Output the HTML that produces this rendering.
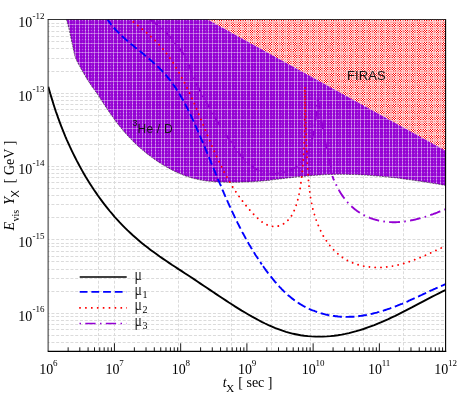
<!DOCTYPE html>
<html><head><meta charset="utf-8"><title>plot</title>
<style>html,body{margin:0;padding:0;background:#fff;}svg{display:block;font-family:"Liberation Serif",serif;will-change:transform;transform:translateZ(0);}</style></head>
<body>
<svg width="465" height="395" viewBox="0 0 465 395">
<defs>
<pattern id="pfiras" width="31" height="31" patternUnits="userSpaceOnUse" x="0" y="0" shape-rendering="crispEdges"><rect width="31" height="31" fill="#ff0000"/><path fill="#ffffff" d="M2 0h1v1h-1zM4 0h1v1h-1zM9 0h1v1h-1zM14 0h1v1h-1zM16 0h1v1h-1zM21 0h1v1h-1zM23 0h1v1h-1zM28 0h1v1h-1zM3 1h1v1h-1zM8 1h1v1h-1zM10 1h1v1h-1zM15 1h1v1h-1zM22 1h1v1h-1zM27 1h1v1h-1zM29 1h1v1h-1zM2 5h1v1h-1zM4 5h1v1h-1zM9 5h1v1h-1zM14 5h1v1h-1zM16 5h1v1h-1zM21 5h1v1h-1zM23 5h1v1h-1zM28 5h1v1h-1zM3 6h1v1h-1zM8 6h1v1h-1zM10 6h1v1h-1zM15 6h1v1h-1zM22 6h1v1h-1zM27 6h1v1h-1zM29 6h1v1h-1zM2 7h1v1h-1zM4 7h1v1h-1zM9 7h1v1h-1zM14 7h1v1h-1zM16 7h1v1h-1zM21 7h1v1h-1zM23 7h1v1h-1zM28 7h1v1h-1zM3 11h1v1h-1zM8 11h1v1h-1zM10 11h1v1h-1zM15 11h1v1h-1zM22 11h1v1h-1zM27 11h1v1h-1zM29 11h1v1h-1zM2 12h1v1h-1zM4 12h1v1h-1zM9 12h1v1h-1zM14 12h1v1h-1zM16 12h1v1h-1zM21 12h1v1h-1zM23 12h1v1h-1zM28 12h1v1h-1zM3 13h1v1h-1zM8 13h1v1h-1zM10 13h1v1h-1zM15 13h1v1h-1zM22 13h1v1h-1zM27 13h1v1h-1zM29 13h1v1h-1zM3 18h1v1h-1zM8 18h1v1h-1zM10 18h1v1h-1zM15 18h1v1h-1zM22 18h1v1h-1zM27 18h1v1h-1zM29 18h1v1h-1zM2 19h1v1h-1zM4 19h1v1h-1zM9 19h1v1h-1zM14 19h1v1h-1zM16 19h1v1h-1zM21 19h1v1h-1zM23 19h1v1h-1zM28 19h1v1h-1zM3 20h1v1h-1zM8 20h1v1h-1zM10 20h1v1h-1zM15 20h1v1h-1zM22 20h1v1h-1zM27 20h1v1h-1zM29 20h1v1h-1zM2 24h1v1h-1zM4 24h1v1h-1zM9 24h1v1h-1zM14 24h1v1h-1zM16 24h1v1h-1zM21 24h1v1h-1zM23 24h1v1h-1zM28 24h1v1h-1zM3 25h1v1h-1zM8 25h1v1h-1zM10 25h1v1h-1zM15 25h1v1h-1zM22 25h1v1h-1zM27 25h1v1h-1zM29 25h1v1h-1zM2 26h1v1h-1zM4 26h1v1h-1zM9 26h1v1h-1zM14 26h1v1h-1zM16 26h1v1h-1zM21 26h1v1h-1zM23 26h1v1h-1zM28 26h1v1h-1zM3 30h1v1h-1zM8 30h1v1h-1zM10 30h1v1h-1zM15 30h1v1h-1zM22 30h1v1h-1zM27 30h1v1h-1zM29 30h1v1h-1z"/><path fill="#fff0f0" d="M17 1h1v1h-1zM20 1h1v1h-1zM17 6h1v1h-1zM20 6h1v1h-1zM17 11h1v1h-1zM20 11h1v1h-1zM17 13h1v1h-1zM20 13h1v1h-1zM2 14h1v1h-1zM4 14h1v1h-1zM9 14h1v1h-1zM14 14h1v1h-1zM16 14h1v1h-1zM21 14h1v1h-1zM23 14h1v1h-1zM28 14h1v1h-1zM2 17h1v1h-1zM4 17h1v1h-1zM9 17h1v1h-1zM14 17h1v1h-1zM16 17h1v1h-1zM21 17h1v1h-1zM23 17h1v1h-1zM28 17h1v1h-1zM17 18h1v1h-1zM20 18h1v1h-1zM17 20h1v1h-1zM20 20h1v1h-1zM17 25h1v1h-1zM20 25h1v1h-1zM17 30h1v1h-1zM20 30h1v1h-1z"/><path fill="#ffe1e1" d="M11 0h1v1h-1zM26 0h1v1h-1zM1 1h1v1h-1zM5 1h1v1h-1zM2 2h1v1h-1zM4 2h1v1h-1zM9 2h1v1h-1zM11 2h1v1h-1zM14 2h1v1h-1zM16 2h1v1h-1zM21 2h1v1h-1zM23 2h1v1h-1zM26 2h1v1h-1zM28 2h1v1h-1zM11 5h1v1h-1zM26 5h1v1h-1zM1 6h1v1h-1zM5 6h1v1h-1zM11 7h1v1h-1zM26 7h1v1h-1zM1 8h1v1h-1zM3 8h1v1h-1zM5 8h1v1h-1zM8 8h1v1h-1zM10 8h1v1h-1zM15 8h1v1h-1zM17 8h1v1h-1zM20 8h1v1h-1zM22 8h1v1h-1zM27 8h1v1h-1zM29 8h1v1h-1zM1 11h1v1h-1zM5 11h1v1h-1zM11 12h1v1h-1zM26 12h1v1h-1zM1 13h1v1h-1zM5 13h1v1h-1zM11 14h1v1h-1zM26 14h1v1h-1zM11 17h1v1h-1zM26 17h1v1h-1zM1 18h1v1h-1zM5 18h1v1h-1zM11 19h1v1h-1zM26 19h1v1h-1zM1 20h1v1h-1zM5 20h1v1h-1zM1 23h1v1h-1zM3 23h1v1h-1zM5 23h1v1h-1zM8 23h1v1h-1zM10 23h1v1h-1zM15 23h1v1h-1zM17 23h1v1h-1zM20 23h1v1h-1zM22 23h1v1h-1zM27 23h1v1h-1zM29 23h1v1h-1zM11 24h1v1h-1zM26 24h1v1h-1zM1 25h1v1h-1zM5 25h1v1h-1zM11 26h1v1h-1zM26 26h1v1h-1zM2 29h1v1h-1zM4 29h1v1h-1zM9 29h1v1h-1zM11 29h1v1h-1zM14 29h1v1h-1zM16 29h1v1h-1zM21 29h1v1h-1zM23 29h1v1h-1zM26 29h1v1h-1zM28 29h1v1h-1zM1 30h1v1h-1zM5 30h1v1h-1z"/><path fill="#ffd2d2" d="M7 0h1v1h-1zM30 0h1v1h-1zM0 2h1v1h-1zM6 2h2v1h-2zM12 2h2v1h-2zM18 2h2v1h-2zM24 2h2v1h-2zM30 2h1v1h-1zM1 3h1v1h-1zM5 3h1v1h-1zM7 3h1v1h-1zM30 3h1v1h-1zM0 4h2v1h-2zM3 4h1v1h-1zM5 4h2v1h-2zM8 4h1v1h-1zM10 4h1v1h-1zM12 4h2v1h-2zM15 4h1v1h-1zM17 4h4v1h-4zM22 4h1v1h-1zM24 4h2v1h-2zM27 4h1v1h-1zM29 4h1v1h-1zM7 5h1v1h-1zM30 5h1v1h-1zM7 7h1v1h-1zM30 7h1v1h-1zM1 9h1v1h-1zM5 9h1v1h-1zM7 9h1v1h-1zM30 9h1v1h-1zM1 10h1v1h-1zM5 10h1v1h-1zM7 10h1v1h-1zM30 10h1v1h-1zM7 12h1v1h-1zM30 12h1v1h-1zM7 14h1v1h-1zM30 14h1v1h-1zM1 15h1v1h-1zM5 15h1v1h-1zM7 15h1v1h-1zM30 15h1v1h-1zM1 16h1v1h-1zM5 16h1v1h-1zM7 16h1v1h-1zM30 16h1v1h-1zM7 17h1v1h-1zM30 17h1v1h-1zM7 19h1v1h-1zM30 19h1v1h-1zM1 21h1v1h-1zM5 21h1v1h-1zM7 21h1v1h-1zM30 21h1v1h-1zM1 22h1v1h-1zM5 22h1v1h-1zM7 22h1v1h-1zM30 22h1v1h-1zM7 24h1v1h-1zM30 24h1v1h-1zM7 26h1v1h-1zM30 26h1v1h-1zM0 27h2v1h-2zM3 27h1v1h-1zM5 27h2v1h-2zM8 27h1v1h-1zM10 27h1v1h-1zM12 27h2v1h-2zM15 27h1v1h-1zM17 27h4v1h-4zM22 27h1v1h-1zM24 27h2v1h-2zM27 27h1v1h-1zM29 27h1v1h-1zM1 28h1v1h-1zM5 28h1v1h-1zM7 28h1v1h-1zM30 28h1v1h-1zM0 29h1v1h-1zM6 29h2v1h-2zM12 29h2v1h-2zM18 29h2v1h-2zM24 29h2v1h-2zM30 29h1v1h-1z"/><path fill="#ffc3c3" d="M13 0h1v1h-1zM24 0h1v1h-1zM13 1h1v1h-1zM24 1h1v1h-1zM11 3h1v1h-1zM13 3h1v1h-1zM24 3h1v1h-1zM26 3h1v1h-1zM7 4h1v1h-1zM30 4h1v1h-1zM13 5h1v1h-1zM24 5h1v1h-1zM13 6h1v1h-1zM24 6h1v1h-1zM13 7h1v1h-1zM24 7h1v1h-1zM0 8h1v1h-1zM6 8h1v1h-1zM12 8h2v1h-2zM18 8h2v1h-2zM24 8h2v1h-2zM11 9h1v1h-1zM13 9h1v1h-1zM24 9h1v1h-1zM26 9h1v1h-1zM0 10h1v1h-1zM2 10h3v1h-3zM6 10h1v1h-1zM8 10h22v1h-22zM13 11h1v1h-1zM24 11h1v1h-1zM13 12h1v1h-1zM24 12h1v1h-1zM13 13h1v1h-1zM24 13h1v1h-1zM13 14h1v1h-1zM24 14h1v1h-1zM11 15h1v1h-1zM13 15h1v1h-1zM24 15h1v1h-1zM26 15h1v1h-1zM11 16h1v1h-1zM13 16h1v1h-1zM24 16h1v1h-1zM26 16h1v1h-1zM13 17h1v1h-1zM24 17h1v1h-1zM13 18h1v1h-1zM24 18h1v1h-1zM13 19h1v1h-1zM24 19h1v1h-1zM13 20h1v1h-1zM24 20h1v1h-1zM0 21h1v1h-1zM2 21h3v1h-3zM6 21h1v1h-1zM8 21h22v1h-22zM11 22h1v1h-1zM13 22h1v1h-1zM24 22h1v1h-1zM26 22h1v1h-1zM0 23h1v1h-1zM6 23h1v1h-1zM12 23h2v1h-2zM18 23h2v1h-2zM24 23h2v1h-2zM13 24h1v1h-1zM24 24h1v1h-1zM13 25h1v1h-1zM24 25h1v1h-1zM13 26h1v1h-1zM24 26h1v1h-1zM7 27h1v1h-1zM30 27h1v1h-1zM11 28h1v1h-1zM13 28h1v1h-1zM24 28h1v1h-1zM26 28h1v1h-1zM13 30h1v1h-1zM24 30h1v1h-1z"/><path fill="#ffb4b4" d="M1 2h1v1h-1zM5 2h1v1h-1zM17 3h1v1h-1zM20 3h1v1h-1zM11 4h1v1h-1zM26 4h1v1h-1zM7 8h1v1h-1zM30 8h1v1h-1zM17 9h1v1h-1zM20 9h1v1h-1zM0 14h1v1h-1zM6 14h1v1h-1zM12 14h1v1h-1zM18 14h2v1h-2zM25 14h1v1h-1zM17 15h1v1h-1zM20 15h1v1h-1zM17 16h1v1h-1zM20 16h1v1h-1zM0 17h1v1h-1zM6 17h1v1h-1zM12 17h1v1h-1zM18 17h2v1h-2zM25 17h1v1h-1zM17 22h1v1h-1zM20 22h1v1h-1zM7 23h1v1h-1zM30 23h1v1h-1zM11 27h1v1h-1zM26 27h1v1h-1zM17 28h1v1h-1zM20 28h1v1h-1zM1 29h1v1h-1zM5 29h1v1h-1z"/><path fill="#ffa5a5" d="M18 0h2v1h-2zM7 1h1v1h-1zM18 1h2v1h-2zM30 1h1v1h-1zM18 3h2v1h-2zM2 4h1v1h-1zM4 4h1v1h-1zM9 4h1v1h-1zM14 4h1v1h-1zM16 4h1v1h-1zM21 4h1v1h-1zM23 4h1v1h-1zM28 4h1v1h-1zM18 5h2v1h-2zM7 6h1v1h-1zM18 6h2v1h-2zM30 6h1v1h-1zM18 7h2v1h-2zM18 9h2v1h-2zM7 11h1v1h-1zM18 11h2v1h-2zM30 11h1v1h-1zM18 12h2v1h-2zM7 13h1v1h-1zM18 13h2v1h-2zM30 13h1v1h-1zM0 15h1v1h-1zM2 15h3v1h-3zM6 15h1v1h-1zM8 15h3v1h-3zM12 15h1v1h-1zM14 15h3v1h-3zM18 15h2v1h-2zM21 15h3v1h-3zM25 15h1v1h-1zM27 15h3v1h-3zM0 16h1v1h-1zM2 16h3v1h-3zM6 16h1v1h-1zM8 16h3v1h-3zM12 16h1v1h-1zM14 16h3v1h-3zM18 16h2v1h-2zM21 16h3v1h-3zM25 16h1v1h-1zM27 16h3v1h-3zM7 18h1v1h-1zM18 18h2v1h-2zM30 18h1v1h-1zM18 19h2v1h-2zM7 20h1v1h-1zM18 20h2v1h-2zM30 20h1v1h-1zM18 22h2v1h-2zM18 24h2v1h-2zM7 25h1v1h-1zM18 25h2v1h-2zM30 25h1v1h-1zM18 26h2v1h-2zM2 27h1v1h-1zM4 27h1v1h-1zM9 27h1v1h-1zM14 27h1v1h-1zM16 27h1v1h-1zM21 27h1v1h-1zM23 27h1v1h-1zM28 27h1v1h-1zM18 28h2v1h-2zM7 30h1v1h-1zM18 30h2v1h-2zM30 30h1v1h-1z"/><path fill="#ff9696" d="M12 0h1v1h-1zM25 0h1v1h-1zM12 1h1v1h-1zM25 1h1v1h-1zM12 3h1v1h-1zM14 3h1v1h-1zM23 3h1v1h-1zM25 3h1v1h-1zM12 5h1v1h-1zM25 5h1v1h-1zM12 6h1v1h-1zM25 6h1v1h-1zM12 7h1v1h-1zM25 7h1v1h-1zM0 9h1v1h-1zM2 9h3v1h-3zM6 9h1v1h-1zM8 9h3v1h-3zM12 9h1v1h-1zM14 9h3v1h-3zM21 9h3v1h-3zM25 9h1v1h-1zM27 9h3v1h-3zM0 11h1v1h-1zM6 11h1v1h-1zM12 11h1v1h-1zM25 11h1v1h-1zM12 12h1v1h-1zM25 12h1v1h-1zM12 13h1v1h-1zM25 13h1v1h-1zM12 18h1v1h-1zM25 18h1v1h-1zM12 19h1v1h-1zM25 19h1v1h-1zM0 20h1v1h-1zM6 20h1v1h-1zM12 20h1v1h-1zM25 20h1v1h-1zM0 22h1v1h-1zM2 22h3v1h-3zM6 22h1v1h-1zM8 22h3v1h-3zM12 22h1v1h-1zM14 22h3v1h-3zM21 22h3v1h-3zM25 22h1v1h-1zM27 22h3v1h-3zM12 24h1v1h-1zM25 24h1v1h-1zM12 25h1v1h-1zM25 25h1v1h-1zM12 26h1v1h-1zM25 26h1v1h-1zM12 28h1v1h-1zM14 28h1v1h-1zM23 28h1v1h-1zM25 28h1v1h-1zM12 30h1v1h-1zM25 30h1v1h-1z"/><path fill="#ff8787" d="M0 0h1v1h-1zM6 0h1v1h-1zM0 1h1v1h-1zM6 1h1v1h-1zM17 2h1v1h-1zM20 2h1v1h-1zM0 3h1v1h-1zM2 3h3v1h-3zM6 3h1v1h-1zM8 3h3v1h-3zM15 3h2v1h-2zM21 3h2v1h-2zM27 3h3v1h-3zM0 5h1v1h-1zM6 5h1v1h-1zM0 6h1v1h-1zM6 6h1v1h-1zM0 7h1v1h-1zM6 7h1v1h-1zM0 12h1v1h-1zM6 12h1v1h-1zM0 13h1v1h-1zM6 13h1v1h-1zM1 14h1v1h-1zM5 14h1v1h-1zM1 17h1v1h-1zM5 17h1v1h-1zM0 18h1v1h-1zM6 18h1v1h-1zM0 19h1v1h-1zM6 19h1v1h-1zM0 24h1v1h-1zM6 24h1v1h-1zM0 25h1v1h-1zM6 25h1v1h-1zM0 26h1v1h-1zM6 26h1v1h-1zM0 28h1v1h-1zM2 28h3v1h-3zM6 28h1v1h-1zM8 28h3v1h-3zM15 28h2v1h-2zM21 28h2v1h-2zM27 28h3v1h-3zM17 29h1v1h-1zM20 29h1v1h-1zM0 30h1v1h-1zM6 30h1v1h-1z"/><path fill="#ff7878" d="M1 0h1v1h-1zM5 0h1v1h-1zM3 2h1v1h-1zM8 2h1v1h-1zM10 2h1v1h-1zM15 2h1v1h-1zM22 2h1v1h-1zM27 2h1v1h-1zM29 2h1v1h-1zM1 5h1v1h-1zM5 5h1v1h-1zM1 7h1v1h-1zM5 7h1v1h-1zM11 8h1v1h-1zM26 8h1v1h-1zM1 12h1v1h-1zM5 12h1v1h-1zM1 19h1v1h-1zM5 19h1v1h-1zM11 23h1v1h-1zM26 23h1v1h-1zM1 24h1v1h-1zM5 24h1v1h-1zM1 26h1v1h-1zM5 26h1v1h-1zM3 29h1v1h-1zM8 29h1v1h-1zM10 29h1v1h-1zM15 29h1v1h-1zM22 29h1v1h-1zM27 29h1v1h-1zM29 29h1v1h-1z"/><path fill="#ff4b4b" d="M11 1h1v1h-1zM26 1h1v1h-1zM11 6h1v1h-1zM26 6h1v1h-1zM2 8h1v1h-1zM4 8h1v1h-1zM9 8h1v1h-1zM14 8h1v1h-1zM16 8h1v1h-1zM21 8h1v1h-1zM23 8h1v1h-1zM28 8h1v1h-1zM11 11h1v1h-1zM26 11h1v1h-1zM11 13h1v1h-1zM26 13h1v1h-1zM11 18h1v1h-1zM26 18h1v1h-1zM11 20h1v1h-1zM26 20h1v1h-1zM2 23h1v1h-1zM4 23h1v1h-1zM9 23h1v1h-1zM14 23h1v1h-1zM16 23h1v1h-1zM21 23h1v1h-1zM23 23h1v1h-1zM28 23h1v1h-1zM11 25h1v1h-1zM26 25h1v1h-1zM11 30h1v1h-1zM26 30h1v1h-1z"/><path fill="#ff3c3c" d="M17 14h1v1h-1zM20 14h1v1h-1zM17 17h1v1h-1zM20 17h1v1h-1z"/><path fill="#ff1e1e" d="M17 0h1v1h-1zM20 0h1v1h-1zM17 5h1v1h-1zM20 5h1v1h-1zM17 7h1v1h-1zM20 7h1v1h-1zM17 12h1v1h-1zM20 12h1v1h-1zM3 14h1v1h-1zM8 14h1v1h-1zM10 14h1v1h-1zM15 14h1v1h-1zM22 14h1v1h-1zM27 14h1v1h-1zM29 14h1v1h-1zM3 17h1v1h-1zM8 17h1v1h-1zM10 17h1v1h-1zM15 17h1v1h-1zM22 17h1v1h-1zM27 17h1v1h-1zM29 17h1v1h-1zM17 19h1v1h-1zM20 19h1v1h-1zM17 24h1v1h-1zM20 24h1v1h-1zM17 26h1v1h-1zM20 26h1v1h-1z"/></pattern>
<pattern id="ppurple" width="19" height="19" patternUnits="userSpaceOnUse" x="18" y="5" shape-rendering="crispEdges"><rect width="19" height="19" fill="#9400d3"/><path fill="#9809d4" d="M1 16h3v1h-3zM5 16h2v1h-2zM8 16h2v1h-2zM11 16h2v1h-2zM14 16h2v1h-2zM18 16h1v1h-1z"/><path fill="#990dd5" d="M17 1h1v1h-1zM17 2h1v1h-1zM1 3h3v1h-3zM5 3h2v1h-2zM8 3h2v1h-2zM11 3h2v1h-2zM14 3h2v1h-2zM17 3h2v1h-2zM17 4h1v1h-1zM17 5h1v1h-1zM1 6h3v1h-3zM5 6h2v1h-2zM8 6h2v1h-2zM11 6h2v1h-2zM14 6h2v1h-2zM17 6h2v1h-2zM17 7h1v1h-1zM17 8h1v1h-1zM17 10h1v1h-1zM17 11h1v1h-1zM1 12h3v1h-3zM5 12h2v1h-2zM8 12h2v1h-2zM11 12h2v1h-2zM14 12h2v1h-2zM17 12h2v1h-2zM17 13h1v1h-1zM17 14h1v1h-1zM1 15h3v1h-3zM5 15h2v1h-2zM8 15h2v1h-2zM11 15h2v1h-2zM14 15h2v1h-2zM17 15h2v1h-2zM17 16h1v1h-1zM17 17h1v1h-1zM17 18h1v1h-1z"/><path fill="#9b11d6" d="M7 1h1v1h-1zM16 1h1v1h-1zM7 2h1v1h-1zM16 2h1v1h-1zM7 4h1v1h-1zM16 4h1v1h-1zM7 5h1v1h-1zM16 5h1v1h-1zM7 7h1v1h-1zM16 7h1v1h-1zM7 8h1v1h-1zM16 8h1v1h-1zM7 10h1v1h-1zM16 10h1v1h-1zM7 11h1v1h-1zM16 11h1v1h-1zM7 13h1v1h-1zM16 13h1v1h-1zM7 14h1v1h-1zM16 14h1v1h-1zM7 16h1v1h-1zM16 16h1v1h-1zM7 17h1v1h-1zM16 17h1v1h-1zM7 18h1v1h-1zM16 18h1v1h-1z"/><path fill="#b856e2" d="M7 3h1v1h-1zM16 3h1v1h-1zM7 6h1v1h-1zM16 6h1v1h-1zM7 12h1v1h-1zM16 12h1v1h-1zM7 15h1v1h-1zM16 15h1v1h-1z"/><path fill="#bc5fe3" d="M1 0h3v1h-3zM5 0h2v1h-2zM8 0h2v1h-2zM11 0h2v1h-2zM14 0h2v1h-2zM17 0h2v1h-2zM0 1h1v1h-1zM4 1h1v1h-1zM10 1h1v1h-1zM13 1h1v1h-1zM0 2h1v1h-1zM4 2h1v1h-1zM10 2h1v1h-1zM13 2h1v1h-1zM0 4h1v1h-1zM4 4h1v1h-1zM10 4h1v1h-1zM13 4h1v1h-1zM0 5h1v1h-1zM4 5h1v1h-1zM10 5h1v1h-1zM13 5h1v1h-1zM0 7h1v1h-1zM4 7h1v1h-1zM10 7h1v1h-1zM13 7h1v1h-1zM0 8h1v1h-1zM4 8h1v1h-1zM10 8h1v1h-1zM13 8h1v1h-1zM1 9h3v1h-3zM5 9h2v1h-2zM8 9h2v1h-2zM11 9h2v1h-2zM14 9h2v1h-2zM17 9h2v1h-2zM0 10h1v1h-1zM4 10h1v1h-1zM10 10h1v1h-1zM13 10h1v1h-1zM0 11h1v1h-1zM4 11h1v1h-1zM10 11h1v1h-1zM13 11h1v1h-1zM0 13h1v1h-1zM4 13h1v1h-1zM10 13h1v1h-1zM13 13h1v1h-1zM0 14h1v1h-1zM4 14h1v1h-1zM10 14h1v1h-1zM13 14h1v1h-1zM0 16h1v1h-1zM4 16h1v1h-1zM10 16h1v1h-1zM13 16h1v1h-1zM0 17h1v1h-1zM4 17h1v1h-1zM10 17h1v1h-1zM13 17h1v1h-1zM0 18h1v1h-1zM4 18h1v1h-1zM10 18h1v1h-1zM13 18h1v1h-1z"/><path fill="#d293ec" d="M7 0h1v1h-1zM16 0h1v1h-1zM7 9h1v1h-1zM16 9h1v1h-1z"/><path fill="#d59cee" d="M0 0h1v1h-1zM4 0h1v1h-1zM10 0h1v1h-1zM13 0h1v1h-1zM0 9h1v1h-1zM4 9h1v1h-1zM10 9h1v1h-1zM13 9h1v1h-1z"/><path fill="#d7a0ef" d="M0 3h1v1h-1zM4 3h1v1h-1zM10 3h1v1h-1zM13 3h1v1h-1zM0 6h1v1h-1zM4 6h1v1h-1zM10 6h1v1h-1zM13 6h1v1h-1zM0 12h1v1h-1zM4 12h1v1h-1zM10 12h1v1h-1zM13 12h1v1h-1zM0 15h1v1h-1zM4 15h1v1h-1zM10 15h1v1h-1zM13 15h1v1h-1z"/></pattern>

<clipPath id="cp"><rect x="48.2" y="19.5" width="397.40000000000003" height="331.8"/></clipPath>
</defs>
<rect width="465" height="395" fill="#fff"/>
<path d="M48.2 23.5H445.6M48.2 26.5H445.6M48.2 31.5H445.6M48.2 36.5H445.6M48.2 41.5H445.6M48.2 48.5H445.6M48.2 58.5H445.6M48.2 71.5H445.6M48.2 93.5H445.6M48.2 96.5H445.6M48.2 100.5H445.6M48.2 104.5H445.6M48.2 109.5H445.6M48.2 115.5H445.6M48.2 122.5H445.6M48.2 131.5H445.6M48.2 144.5H445.6M48.2 166.5H445.6M48.2 169.5H445.6M48.2 173.5H445.6M48.2 177.5H445.6M48.2 182.5H445.6M48.2 188.5H445.6M48.2 195.5H445.6M48.2 204.5H445.6M48.2 217.5H445.6M48.2 239.5H445.6M48.2 243.5H445.6M48.2 246.5H445.6M48.2 251.5H445.6M48.2 256.5H445.6M48.2 261.5H445.6M48.2 269.5H445.6M48.2 278.5H445.6M48.2 291.5H445.6M48.2 313.5H445.6M48.2 316.5H445.6M48.2 320.5H445.6M48.2 324.5H445.6M48.2 329.5H445.6M48.2 335.5H445.6M48.2 342.5H445.6" stroke="#dbdbdb" stroke-width="1" stroke-dasharray="3 1.75" stroke-dashoffset="1.5" fill="none"/>
<path d="M98.5 19.5V351.3M114.5 19.5V351.3M178.5 19.5V351.3M231.5 19.5V351.3M271.5 19.5V351.3M310.5 19.5V351.3M363.5 19.5V351.3M403.5 19.5V351.3" stroke="#dbdbdb" stroke-width="1" stroke-dasharray="3 1.75" fill="none"/>
<path d="M207.5 19.5 L445.6 19.5 L445.6 150.8Z" fill="url(#pfiras)"/>
<path d="M66.4 19.5 L66.7 20.5 L67.1 21.8 L67.6 23.4 L68.1 25.2 L68.6 27.1 L69.1 29.3 L69.6 31.8 L70.2 34.5 L70.7 37.0 L71.2 39.3 L71.6 41.2 L72.0 43.0 L72.4 44.6 L72.7 46.1 L73.0 47.5 L73.3 48.9 L73.6 50.1 L73.8 51.3 L74.0 52.4 L74.3 53.5 L74.5 54.5 L74.8 55.5 L75.0 56.5 L75.3 57.4 L75.7 58.5 L76.2 59.6 L76.8 60.8 L77.4 62.1 L78.1 63.4 L78.8 64.7 L79.6 66.1 L80.4 67.6 L81.2 69.1 L82.2 70.7 L83.1 72.3 L84.1 74.0 L85.1 75.7 L86.1 77.5 L87.2 79.4 L88.5 81.4 L90.1 83.7 L91.9 86.4 L93.8 89.1 L95.4 91.4 L96.8 92.9 L98.4 95.6 L100.1 98.3 L101.9 101.0 L103.6 103.7 L105.4 106.4 L107.2 109.1 L109.0 111.8 L110.9 114.5 L112.8 117.1 L114.7 119.8 L116.6 122.4 L118.6 125.0 L120.6 127.5 L122.7 130.0 L124.8 132.5 L127.0 134.9 L129.1 137.3 L131.4 139.6 L133.6 141.9 L136.0 144.2 L138.3 146.4 L140.7 148.5 L143.2 150.6 L145.7 152.7 L148.2 154.7 L150.8 156.6 L153.4 158.5 L156.1 160.4 L158.8 162.2 L161.5 164.0 L164.3 165.7 L167.2 167.4 L170.0 168.9 L172.9 170.4 L175.9 171.9 L178.9 173.2 L181.9 174.5 L184.9 175.7 L187.9 176.7 L191.0 177.7 L194.1 178.6 L197.3 179.3 L200.4 180.0 L203.6 180.5 L206.7 181.0 L209.9 181.3 L213.1 181.6 L216.3 181.9 L219.6 182.0 L222.8 182.1 L226.0 182.2 L229.3 182.3 L232.5 182.3 L235.7 182.3 L239.0 182.2 L242.2 182.1 L245.4 182.0 L248.7 181.9 L251.9 181.8 L255.1 181.6 L258.4 181.3 L261.6 181.1 L264.9 180.7 L268.1 180.4 L271.3 180.0 L274.6 179.6 L277.8 179.2 L281.0 178.8 L284.3 178.4 L287.5 178.0 L290.8 177.7 L294.0 177.3 L297.2 176.9 L300.5 176.6 L303.7 176.3 L306.9 176.0 L310.2 175.7 L313.4 175.4 L316.7 175.2 L319.9 175.0 L323.1 174.8 L326.4 174.6 L329.6 174.5 L332.8 174.4 L336.1 174.3 L339.3 174.3 L342.5 174.3 L345.8 174.3 L349.0 174.4 L352.2 174.5 L355.5 174.6 L358.7 174.7 L361.9 174.9 L365.2 175.1 L368.4 175.3 L371.6 175.5 L374.9 175.8 L378.1 176.0 L381.3 176.3 L384.5 176.7 L387.8 177.0 L391.0 177.4 L394.2 177.7 L397.4 178.1 L400.6 178.5 L403.9 178.9 L407.1 179.4 L410.3 179.8 L413.5 180.3 L416.7 180.8 L419.9 181.2 L423.2 181.7 L426.4 182.2 L429.6 182.8 L432.8 183.3 L436.0 183.8 L439.2 184.3 L442.4 184.9 L445.6 185.4 L445.6 150.8 L207.5 19.5Z" fill="url(#ppurple)"/>
<path d="M66.4 19.5 L66.7 20.5 L67.1 21.8 L67.6 23.4 L68.1 25.2 L68.6 27.1 L69.1 29.3 L69.6 31.8 L70.2 34.5 L70.7 37.0 L71.2 39.3 L71.6 41.2 L72.0 43.0 L72.4 44.6 L72.7 46.1 L73.0 47.5 L73.3 48.9 L73.6 50.1 L73.8 51.3 L74.0 52.4 L74.3 53.5 L74.5 54.5 L74.8 55.5 L75.0 56.5 L75.3 57.4 L75.7 58.5 L76.2 59.6 L76.8 60.8 L77.4 62.1 L78.1 63.4 L78.8 64.7 L79.6 66.1 L80.4 67.6 L81.2 69.1 L82.2 70.7 L83.1 72.3 L84.1 74.0 L85.1 75.7 L86.1 77.5 L87.2 79.4 L88.5 81.4 L90.1 83.7 L91.9 86.4 L93.8 89.1 L95.4 91.4 L96.8 92.9 L98.4 95.6 L100.1 98.3 L101.9 101.0 L103.6 103.7 L105.4 106.4 L107.2 109.1 L109.0 111.8 L110.9 114.5 L112.8 117.1 L114.7 119.8 L116.6 122.4 L118.6 125.0 L120.6 127.5 L122.7 130.0 L124.8 132.5 L127.0 134.9 L129.1 137.3 L131.4 139.6 L133.6 141.9 L136.0 144.2 L138.3 146.4 L140.7 148.5 L143.2 150.6 L145.7 152.7 L148.2 154.7 L150.8 156.6 L153.4 158.5 L156.1 160.4 L158.8 162.2 L161.5 164.0 L164.3 165.7 L167.2 167.4 L170.0 168.9 L172.9 170.4 L175.9 171.9 L178.9 173.2 L181.9 174.5 L184.9 175.7 L187.9 176.7 L191.0 177.7 L194.1 178.6 L197.3 179.3 L200.4 180.0 L203.6 180.5 L206.7 181.0 L209.9 181.3 L213.1 181.6 L216.3 181.9 L219.6 182.0 L222.8 182.1 L226.0 182.2 L229.3 182.3 L232.5 182.3 L235.7 182.3 L239.0 182.2 L242.2 182.1 L245.4 182.0 L248.7 181.9 L251.9 181.8 L255.1 181.6 L258.4 181.3 L261.6 181.1 L264.9 180.7 L268.1 180.4 L271.3 180.0 L274.6 179.6 L277.8 179.2 L281.0 178.8 L284.3 178.4 L287.5 178.0 L290.8 177.7 L294.0 177.3 L297.2 176.9 L300.5 176.6 L303.7 176.3 L306.9 176.0 L310.2 175.7 L313.4 175.4 L316.7 175.2 L319.9 175.0 L323.1 174.8 L326.4 174.6 L329.6 174.5 L332.8 174.4 L336.1 174.3 L339.3 174.3 L342.5 174.3 L345.8 174.3 L349.0 174.4 L352.2 174.5 L355.5 174.6 L358.7 174.7 L361.9 174.9 L365.2 175.1 L368.4 175.3 L371.6 175.5 L374.9 175.8 L378.1 176.0 L381.3 176.3 L384.5 176.7 L387.8 177.0 L391.0 177.4 L394.2 177.7 L397.4 178.1 L400.6 178.5 L403.9 178.9 L407.1 179.4 L410.3 179.8 L413.5 180.3 L416.7 180.8 L419.9 181.2 L423.2 181.7 L426.4 182.2 L429.6 182.8 L432.8 183.3 L436.0 183.8 L439.2 184.3 L442.4 184.9 L445.6 185.4" fill="none" stroke="#222" stroke-width="0.6" stroke-dasharray="2 1"/>
<g clip-path="url(#cp)" fill="none">
<path d="M150.0 19.5 L151.5 20.6 L153.7 22.1 L156.2 24.0 L158.9 26.1 L161.8 28.4 L164.5 31.0 L167.3 34.0 L170.4 37.4 L173.5 41.1 L176.6 44.9 L179.4 48.4 L181.7 51.6 L183.5 54.3 L184.9 56.8 L186.1 59.0 L187.1 61.2 L188.1 63.5 L189.2 66.0 L190.3 68.6 L191.3 71.3 L192.3 74.0 L193.4 76.9 L194.6 79.8 L196.0 83.0 L197.7 86.4 L199.7 90.1 L201.7 93.9 L203.9 97.7 L206.0 101.4 L208.0 105.0 L209.9 108.3 L211.7 111.6 L213.5 114.7 L215.2 117.8 L217.1 120.9 L219.0 124.0 L221.0 127.2 L223.1 130.4 L225.2 133.6 L227.4 136.8 L229.5 139.9 L231.7 143.0 L233.8 146.0 L236.0 149.0 L238.1 151.9 L240.3 154.8 L242.6 157.5 L245.0 160.0 L247.6 162.4 L250.4 164.8 L253.2 167.0 L256.1 169.0 L259.1 170.7 L262.0 172.0 L264.9 172.9 L267.9 173.4 L270.9 173.7 L274.0 173.7 L277.0 173.4 L280.0 173.0 L283.1 172.4 L286.3 171.5 L289.5 170.4 L292.6 169.1 L295.5 167.7 L298.0 166.0 L300.2 164.1 L302.1 162.0 L303.8 159.6 L305.3 157.1 L306.7 154.6 L308.0 152.0 L309.1 149.4 L310.1 146.7 L310.9 143.9 L311.7 141.0 L312.3 138.0 L313.0 135.0 L313.6 131.8 L314.2 128.4 L314.7 124.9 L315.2 121.4 L315.6 118.1 L316.0 115.0 L316.4 112.0 L316.7 109.1 L316.9 106.2 L317.2 103.7 L317.4 101.6 L317.5 100.0" stroke="#9400D3" stroke-width="2" stroke-dasharray="9.5 4.5 1.5 4.5"/>
<path d="M318.0 100.0 L318.3 101.6 L318.6 103.8 L319.1 106.4 L319.5 109.3 L320.0 112.2 L320.5 115.0 L321.0 117.7 L321.4 120.5 L321.9 123.3 L322.4 126.2 L323.0 129.1 L323.5 132.0 L324.1 135.0 L324.6 138.0 L325.2 141.1 L325.8 144.2 L326.4 147.2 L327.0 150.0 L327.6 152.7 L328.2 155.4 L328.9 158.0 L329.5 160.5 L330.0 162.8 L330.5 165.0 L330.9 167.1 L331.3 169.2 L331.6 171.1 L331.9 172.9 L332.1 174.3 L332.3 175.4" stroke="#9400D3" stroke-width="2" stroke-dasharray="9.5 4.5 1.5 4.5"/>
<path d="M332.3 176.0 L332.9 177.4 L333.4 178.8 L334.0 180.1 L334.6 181.4 L335.1 182.6 L335.7 183.9 L336.3 185.0 L336.9 186.2 L337.4 187.3 L338.0 188.4 L338.6 189.4 L339.1 190.4 L339.7 191.4 L340.3 192.4 L340.8 193.3 L341.4 194.2 L342.0 195.1 L342.5 195.9 L343.1 196.7 L343.7 197.5 L344.3 198.3 L344.8 199.1 L345.4 199.8 L346.0 200.5 L346.5 201.2 L347.1 201.8 L347.7 202.5 L348.2 203.1 L348.8 203.7 L349.4 204.3 L349.9 204.9 L350.5 205.4 L351.1 206.0 L351.7 206.5 L352.2 207.0 L352.8 207.5 L353.4 208.0 L353.9 208.5 L354.5 208.9 L355.1 209.4 L355.6 209.8 L356.2 210.2 L356.8 210.7 L357.4 211.1 L357.9 211.5 L358.5 211.9 L359.1 212.3 L359.6 212.6 L360.2 213.0 L360.8 213.3 L361.3 213.7 L361.9 214.0 L362.5 214.4 L363.0 214.7 L363.6 215.0 L364.2 215.3 L364.8 215.6 L365.3 215.9 L365.9 216.1 L366.5 216.4 L367.0 216.7 L367.6 216.9 L368.2 217.2 L368.7 217.4 L369.3 217.6 L369.9 217.9 L370.4 218.1 L371.0 218.3 L371.6 218.5 L372.2 218.7 L372.7 218.9 L373.3 219.1 L373.9 219.2 L374.4 219.4 L375.0 219.6 L375.6 219.7 L376.1 219.9 L376.7 220.0 L377.3 220.2 L377.8 220.3 L378.4 220.5 L379.0 220.6 L379.6 220.7 L380.1 220.8 L380.7 220.9 L381.3 221.1 L381.8 221.2 L382.4 221.3 L383.0 221.3 L383.5 221.4 L384.1 221.5 L384.7 221.6 L385.2 221.7 L385.8 221.7 L386.4 221.8 L387.0 221.9 L387.5 221.9 L388.1 222.0 L388.7 222.0 L389.2 222.0 L389.8 222.1 L390.4 222.1 L390.9 222.1 L391.5 222.1 L392.1 222.2 L392.7 222.2 L393.2 222.2 L393.8 222.2 L394.4 222.2 L394.9 222.2 L395.5 222.2 L396.1 222.2 L396.6 222.1 L397.2 222.1 L397.8 222.1 L398.3 222.1 L398.9 222.0 L399.5 222.0 L400.1 221.9 L400.6 221.9 L401.2 221.8 L401.8 221.8 L402.3 221.7 L402.9 221.7 L403.5 221.6 L404.0 221.5 L404.6 221.5 L405.2 221.4 L405.7 221.3 L406.3 221.2 L406.9 221.1 L407.5 221.1 L408.0 221.0 L408.6 220.9 L409.2 220.8 L409.7 220.7 L410.3 220.6 L410.9 220.4 L411.4 220.3 L412.0 220.2 L412.6 220.1 L413.1 220.0 L413.7 219.9 L414.3 219.7 L414.9 219.6 L415.4 219.5 L416.0 219.3 L416.6 219.2 L417.1 219.0 L417.7 218.9 L418.3 218.7 L418.8 218.6 L419.4 218.4 L420.0 218.3 L420.5 218.1 L421.1 218.0 L421.7 217.8 L422.3 217.6 L422.8 217.5 L423.4 217.3 L424.0 217.1 L424.5 217.0 L425.1 216.8 L425.7 216.6 L426.2 216.4 L426.8 216.2 L427.4 216.1 L428.0 215.9 L428.5 215.7 L429.1 215.5 L429.7 215.3 L430.2 215.1 L430.8 214.9 L431.4 214.7 L431.9 214.5 L432.5 214.3 L433.1 214.1 L433.6 213.9 L434.2 213.7 L434.8 213.5 L435.4 213.3 L435.9 213.0 L436.5 212.8 L437.1 212.6 L437.6 212.4 L438.2 212.2 L438.8 212.0 L439.3 211.7 L439.9 211.5 L440.5 211.3 L441.0 211.1 L441.6 210.8 L442.2 210.6 L442.8 210.4 L443.3 210.2 L443.9 209.9 L444.5 209.7 L445.0 209.5 L445.6 209.2" stroke="#9400D3" stroke-width="1.9" stroke-dasharray="10.8 4.3 1.6 4.3" stroke-dashoffset="6"/>
<path d="M131.1 20.0 L131.6 20.5 L132.2 20.9 L132.8 21.4 L133.3 21.9 L133.9 22.3 L134.5 22.8 L135.1 23.3 L135.7 23.8 L136.3 24.3 L136.9 24.8 L137.5 25.3 L138.1 25.8 L138.8 26.3 L139.4 26.8 L140.0 27.3 L140.6 27.8 L141.3 28.4 L141.9 28.9 L142.6 29.4 L143.2 30.0 L143.9 30.5 L144.5 31.0 L145.1 31.6 L145.8 32.1 L146.4 32.7 L147.1 33.2 L147.7 33.8 L148.4 34.3 L149.0 34.9 L149.7 35.4 L150.3 36.0 L150.9 36.6 L151.6 37.2 L152.2 37.7 L152.8 38.3 L153.4 38.9 L154.1 39.5 L154.7 40.1 L155.3 40.7 L155.9 41.3 L156.5 41.9 L157.1 42.5 L157.6 43.1 L158.2 43.7 L158.8 44.3 L159.3 44.9 L159.9 45.5 L160.5 46.1 L161.0 46.7 L161.5 47.3 L162.1 48.0 L162.6 48.6 L163.1 49.2 L163.7 49.9 L164.2 50.5 L164.7 51.1 L165.2 51.8 L165.7 52.4 L166.2 53.1 L166.7 53.7 L167.2 54.4 L167.7 55.0 L168.1 55.7 L168.6 56.3 L169.1 57.0 L169.6 57.6 L170.0 58.3 L170.5 59.0 L171.0 59.6 L171.4 60.3 L171.9 61.0 L172.3 61.6 L172.8 62.3 L173.2 63.0 L173.6 63.7 L174.1 64.4 L174.5 65.1 L174.9 65.7 L175.4 66.4 L175.8 67.1 L176.2 67.8 L176.6 68.5 L177.0 69.2 L177.5 69.9 L177.9 70.6 L178.3 71.3 L178.7 72.0 L179.1 72.7 L179.5 73.4 L179.9 74.1 L180.3 74.8 L180.7 75.5 L181.1 76.3 L181.5 77.0 L181.8 77.7 L182.2 78.4 L182.6 79.1 L183.0 79.8 L183.4 80.6 L183.8 81.3 L184.1 82.0 L184.5 82.7 L184.9 83.5 L185.2 84.2 L185.6 84.9 L186.0 85.7 L186.3 86.4 L186.7 87.1 L187.1 87.9 L187.4 88.6 L187.8 89.3 L188.1 90.1 L188.5 90.8 L188.8 91.6 L189.2 92.3 L189.5 93.0 L189.9 93.8 L190.2 94.5 L190.6 95.3 L190.9 96.0 L191.2 96.8 L191.6 97.5 L191.9 98.3 L192.3 99.0 L192.6 99.8 L192.9 100.5 L193.3 101.3 L193.6 102.0 L193.9 102.8 L194.3 103.6 L194.6 104.3 L194.9 105.1 L195.3 105.8 L195.6 106.6 L195.9 107.4 L196.2 108.1 L196.6 108.9 L196.9 109.6 L197.2 110.4 L197.5 111.2 L197.8 111.9 L198.2 112.7 L198.5 113.4 L198.8 114.2 L199.1 115.0 L199.4 115.7 L199.8 116.5 L200.1 117.3 L200.4 118.0 L200.7 118.8 L201.0 119.6 L201.3 120.3 L201.7 121.1 L202.0 121.9 L202.3 122.6 L202.6 123.4 L202.9 124.2 L203.2 124.9 L203.6 125.7 L203.9 126.5 L204.2 127.2 L204.5 128.0 L204.8 128.8 L205.1 129.5 L205.4 130.3 L205.8 131.1 L206.1 131.8 L206.4 132.6 L206.7 133.4 L207.0 134.1 L207.3 134.9 L207.7 135.7 L208.0 136.4 L208.3 137.2 L208.6 138.0 L208.9 138.7 L209.3 139.5 L209.6 140.2 L209.9 141.0 L210.2 141.8 L210.5 142.5 L210.9 143.3 L211.2 144.0 L211.5 144.8 L211.8 145.6 L212.2 146.3 L212.5 147.1 L212.8 147.8 L213.2 148.6 L213.5 149.4 L213.8 150.1 L214.1 150.9 L214.5 151.6 L214.8 152.4 L215.2 153.1 L215.5 153.9 L215.8 154.6 L216.2 155.4 L216.5 156.1 L216.9 156.9 L217.2 157.6 L217.5 158.4 L217.9 159.1 L218.2 159.8 L218.6 160.6 L218.9 161.3 L219.3 162.1 L219.6 162.8 L220.0 163.5 L220.4 164.3 L220.7 165.0 L221.1 165.8 L221.4 166.5 L221.8 167.2 L222.2 168.0 L222.5 168.7 L222.9 169.4 L223.3 170.1 L223.7 170.9 L224.0 171.6 L224.4 172.3 L224.8 173.0 L225.2 173.8 L225.6 174.5 L226.0 175.2 L226.3 175.9 L226.7 176.6 L227.1 177.3 L227.5 178.1 L227.9 178.8 L228.3 179.5 L228.7 180.2 L229.1 180.9 L229.5 181.6 L230.0 182.3 L230.4 183.0 L230.8 183.7 L231.2 184.4 L231.6 185.1 L232.1 185.8 L232.5 186.5 L232.9 187.2 L233.4 187.9 L233.8 188.6 L234.2 189.3 L234.7 190.0 L235.1 190.7 L235.6 191.3 L236.0 192.0 L236.5 192.7 L236.9 193.4 L237.4 194.1 L237.9 194.7 L238.3 195.4 L238.8 196.1 L239.3 196.8 L239.7 197.4 L240.2 198.1 L240.7 198.8 L241.2 199.4 L241.7 200.1 L242.2 200.7 L242.7 201.4 L243.2 202.1 L243.7 202.7 L244.2 203.4 L244.7 204.0 L245.2 204.7 L245.8 205.3 L246.3 206.0 L246.8 206.6 L247.3 207.2 L247.9 207.9 L248.4 208.5 L249.0 209.2 L249.5 209.8 L250.1 210.4 L250.6 211.0 L251.2 211.7 L251.8 212.3 L252.3 212.9 L252.9 213.5 L253.5 214.2 L254.1 214.8 L254.6 215.4 L255.2 216.0 L255.8 216.6 L256.4 217.2 L257.0 217.8 L257.7 218.3 L258.3 218.9 L258.9 219.5 L259.5 220.0 L260.2 220.5 L260.8 221.0 L261.5 221.5 L262.1 222.0 L262.8 222.5 L263.5 222.9 L264.2 223.3 L264.9 223.7 L265.6 224.1 L266.3 224.5 L267.0 224.8 L267.7 225.1 L268.5 225.4 L269.2 225.6 L270.0 225.8 L270.7 226.0 L271.5 226.2 L272.3 226.3 L273.1 226.4 L273.9 226.4 L274.7 226.4 L275.6 226.4 L276.4 226.4 L277.2 226.3 L278.0 226.1 L278.8 226.0 L279.5 225.8 L280.3 225.5 L281.0 225.2 L281.7 224.9 L282.5 224.5 L283.1 224.1 L283.8 223.7 L284.5 223.3 L285.1 222.8 L285.8 222.3 L286.4 221.8 L287.0 221.2 L287.6 220.7 L288.1 220.1 L288.7 219.5 L289.2 218.8 L289.7 218.2 L290.2 217.5 L290.7 216.9 L291.2 216.2 L291.6 215.5 L292.0 214.8 L292.4 214.0 L292.8 213.3 L293.2 212.6 L293.6 211.8 L294.0 211.0 L294.3 210.3 L294.7 209.5 L295.0 208.7 L295.3 207.9 L295.6 207.1 L295.9 206.3 L296.1 205.5 L296.4 204.7 L296.7 203.8 L296.9 203.0 L297.2 202.2 L297.4 201.4 L297.6 200.6 L297.8 199.7 L298.0 198.9 L298.2 198.1 L298.4 197.3 L298.6 196.5 L298.7 195.7 L298.9 194.9 L299.1 194.1 L299.2 193.3 L299.4 192.5 L299.5 191.7 L299.7 190.9 L299.8 190.1 L299.9 189.3 L300.1 188.5 L300.2 187.7 L300.3 186.9 L300.5 186.1 L300.6 185.3 L300.7 184.5 L300.8 183.7 L300.9 182.8 L301.0 182.0 L301.1 181.2 L301.2 180.4 L301.4 179.6 L301.5 178.8 L301.6 178.0 L301.7 177.2 L301.8 176.4 L301.8 175.6 L301.9 174.8 L302.0 174.0 L302.1 173.2 L302.2 172.3 L302.3 171.5 L302.4 170.7 L302.5 169.9 L302.5 169.1 L302.6 168.3 L302.7 167.5 L302.8 166.6 L302.8 165.8 L302.9 165.0 L303.0 164.2 L303.0 163.4 L303.1 162.6 L303.2 161.7 L303.2 160.9 L303.3 160.1 L303.4 159.3 L303.4 158.5 L303.5 157.6 L303.5 156.8 L303.6 156.0 L303.6 155.2 L303.7 154.4 L303.7 153.5 L303.8 152.7 L303.8 151.9 L303.9 151.1 L303.9 150.2 L304.0 149.4 L304.0 148.6 L304.0 147.8 L304.1 146.9 L304.1 146.1 L304.2 145.3 L304.2 144.5 L304.2 143.6 L304.3 142.8 L304.3 142.0 L304.3 141.2 L304.3 140.3 L304.4 139.5 L304.4 138.7 L304.4 137.9 L304.5 137.0 L304.5 136.2 L304.5 135.4 L304.5 134.6 L304.5 133.7 L304.6 132.9 L304.6 132.1 L304.6 131.2 L304.6 130.4 L304.6 129.6 L304.7 128.8 L304.7 127.9 L304.7 127.1 L304.7 126.3 L304.7 125.4 L304.7 124.6 L304.7 123.8 L304.7 123.0 L304.8 122.1 L304.8 121.3 L304.8 120.5 L304.8 119.7 L304.8 118.8 L304.8 118.0 L304.8 117.2 L304.8 116.4 L304.8 115.5 L304.8 114.7 L304.8 113.9 L304.8 113.1 L304.8 112.2 L304.9 111.4 L304.9 110.6 L304.9 109.8 L304.9 108.9 L304.9 108.1 L304.9 107.3 L304.9 106.5 L304.9 105.6 L304.9 104.8 L304.9 104.0 L304.9 103.2 L304.9 102.3 L304.9 101.5 L304.9 100.7 L304.9 99.9 L304.9 99.1 L304.9 98.2 L304.9 97.4 L304.9 96.6 L304.9 95.8 L304.9 95.0 L304.9 94.2 L304.9 93.3 L304.9 92.5 L304.9 91.7 L304.9 90.9 L304.9 90.1 L304.9 89.3 L304.9 88.5 L304.9 87.6 L304.9 86.8 L305.0 86.0" stroke="#ff0000" stroke-width="1.9" stroke-dasharray="0.01 5.74" stroke-linecap="round" stroke-dashoffset="2.83"/>
<path d="M305.0 86.1 L305.0 86.9 L305.0 87.6 L305.0 88.3 L305.0 89.0 L305.0 89.7 L305.0 90.4 L305.0 91.1 L305.0 91.8 L305.1 92.5 L305.1 93.2 L305.1 94.0 L305.1 94.7 L305.1 95.4 L305.1 96.1 L305.1 96.8 L305.1 97.5 L305.2 98.2 L305.2 99.0 L305.2 99.7 L305.2 100.4 L305.2 101.1 L305.2 101.8 L305.2 102.5 L305.2 103.3 L305.3 104.0 L305.3 104.7 L305.3 105.4 L305.3 106.2 L305.3 106.9 L305.3 107.6 L305.4 108.3 L305.4 109.0 L305.4 109.8 L305.4 110.5 L305.4 111.2 L305.4 111.9 L305.5 112.7 L305.5 113.4 L305.5 114.1 L305.5 114.8 L305.5 115.6 L305.5 116.3 L305.6 117.0 L305.6 117.7 L305.6 118.5 L305.6 119.2 L305.6 119.9 L305.7 120.7 L305.7 121.4 L305.7 122.1 L305.7 122.9 L305.7 123.6 L305.8 124.3 L305.8 125.0 L305.8 125.8 L305.8 126.5 L305.9 127.2 L305.9 128.0 L305.9 128.7 L305.9 129.4 L305.9 130.2 L306.0 130.9 L306.0 131.6 L306.0 132.4 L306.0 133.1 L306.1 133.8 L306.1 134.6 L306.1 135.3 L306.1 136.0 L306.2 136.8 L306.2 137.5 L306.2 138.2 L306.3 139.0 L306.3 139.7 L306.3 140.4 L306.3 141.2 L306.4 141.9 L306.4 142.6 L306.4 143.4 L306.5 144.1 L306.5 144.8 L306.5 145.6 L306.5 146.3 L306.6 147.0 L306.6 147.8 L306.6 148.5 L306.7 149.2 L306.7 150.0 L306.7 150.7 L306.8 151.4 L306.8 152.2 L306.8 152.9 L306.9 153.6 L306.9 154.4 L306.9 155.1 L307.0 155.8 L307.0 156.6 L307.0 157.3 L307.1 158.0 L307.1 158.8 L307.1 159.5 L307.2 160.2 L307.2 161.0 L307.3 161.7 L307.3 162.4 L307.3 163.2 L307.4 163.9 L307.4 164.6 L307.5 165.4 L307.5 166.1 L307.5 166.8 L307.6 167.5 L307.6 168.3 L307.7 169.0 L307.7 169.7 L307.8 170.5 L307.8 171.2 L307.9 171.9 L307.9 172.7 L308.0 173.4 L308.0 174.1 L308.1 174.8 L308.1 175.6 L308.2 176.3 L308.2 177.0 L308.3 177.8 L308.4 178.5 L308.4 179.2 L308.5 179.9 L308.5 180.7 L308.6 181.4 L308.7 182.1 L308.7 182.8 L308.8 183.6 L308.9 184.3 L309.0 185.0 L309.0 185.7 L309.1 186.5 L309.2 187.2 L309.3 187.9 L309.3 188.6 L309.4 189.3 L309.5 190.1 L309.6 190.8 L309.7 191.5 L309.8 192.2 L309.9 192.9 L310.0 193.7 L310.1 194.4 L310.2 195.1 L310.3 195.8 L310.4 196.5 L310.5 197.2 L310.6 198.0 L310.8 198.7 L310.9 199.4 L311.0 200.1 L311.1 200.8 L311.3 201.5 L311.4 202.2 L311.5 202.9 L311.7 203.7 L311.8 204.4 L312.0 205.1 L312.1 205.8 L312.3 206.5 L312.4 207.2 L312.6 207.9 L312.8 208.6 L312.9 209.3 L313.1 210.0 L313.3 210.7 L313.5 211.4 L313.7 212.1 L313.9 212.8 L314.1 213.5 L314.3 214.2 L314.5 214.9 L314.7 215.6 L314.9 216.3 L315.1 217.0 L315.3 217.7 L315.6 218.4 L315.8 219.1 L316.1 219.8 L316.3 220.5 L316.6 221.2 L316.8 221.9 L317.1 222.6 L317.3 223.3 L317.6 224.0 L317.9 224.6 L318.2 225.3 L318.5 226.0 L318.8 226.7 L319.1 227.4 L319.4 228.1 L319.7 228.7 L320.0 229.4 L320.3 230.1 L320.6 230.7 L321.0 231.4 L321.3 232.1 L321.6 232.7 L322.0 233.4 L322.3 234.0 L322.7 234.7 L323.0 235.3 L323.4 236.0 L323.8 236.6 L324.2 237.2 L324.5 237.9 L324.9 238.5 L325.3 239.1 L325.7 239.7 L326.1 240.4 L326.5 241.0 L326.9 241.6 L327.4 242.2 L327.8 242.8 L328.2 243.4 L328.6 243.9 L329.1 244.5 L329.5 245.1 L330.0 245.7 L330.4 246.2 L330.9 246.8 L331.4 247.3 L331.8 247.9 L332.3 248.4 L332.8 249.0 L333.3 249.5 L333.8 250.0 L334.3 250.5 L334.8 251.0 L335.3 251.5 L335.8 252.0 L336.3 252.5 L336.9 253.0 L337.4 253.5 L337.9 253.9 L338.5 254.4 L339.0 254.8 L339.6 255.3 L340.1 255.7 L340.7 256.2 L341.3 256.6 L341.8 257.0 L342.4 257.4 L343.0 257.8 L343.6 258.2 L344.2 258.6 L344.8 258.9 L345.4 259.3 L346.0 259.6 L346.6 260.0 L347.2 260.3 L347.9 260.7 L348.5 261.0 L349.1 261.3 L349.8 261.6 L350.4 261.9 L351.1 262.2 L351.7 262.5 L352.4 262.7 L353.0 263.0 L353.7 263.3 L354.4 263.5 L355.0 263.7 L355.7 264.0 L356.4 264.2 L357.1 264.4 L357.7 264.6 L358.4 264.8 L359.1 265.0 L359.8 265.2 L360.5 265.4 L361.2 265.6 L361.9 265.7 L362.6 265.9 L363.3 266.0 L364.0 266.2 L364.7 266.3 L365.5 266.4 L366.2 266.5 L366.9 266.7 L367.6 266.8 L368.3 266.9 L369.1 266.9 L369.8 267.0 L370.5 267.1 L371.2 267.2 L372.0 267.2 L372.7 267.3 L373.4 267.3 L374.2 267.4 L374.9 267.4 L375.6 267.4 L376.4 267.4 L377.1 267.5 L377.8 267.5 L378.6 267.5 L379.3 267.4 L380.0 267.4 L380.8 267.4 L381.5 267.4 L382.3 267.3 L383.0 267.3 L383.7 267.2 L384.5 267.2 L385.2 267.1 L385.9 267.1 L386.7 267.0 L387.4 266.9 L388.1 266.8 L388.9 266.7 L389.6 266.6 L390.3 266.5 L391.1 266.4 L391.8 266.3 L392.5 266.1 L393.2 266.0 L394.0 265.9 L394.7 265.7 L395.4 265.6 L396.1 265.4 L396.9 265.2 L397.6 265.1 L398.3 264.9 L399.0 264.7 L399.7 264.5 L400.4 264.4 L401.2 264.2 L401.9 264.0 L402.6 263.8 L403.3 263.6 L404.0 263.4 L404.7 263.1 L405.4 262.9 L406.1 262.7 L406.8 262.5 L407.5 262.3 L408.3 262.0 L409.0 261.8 L409.7 261.5 L410.4 261.3 L411.1 261.1 L411.8 260.8 L412.4 260.6 L413.1 260.3 L413.8 260.0 L414.5 259.8 L415.2 259.5 L415.9 259.2 L416.6 259.0 L417.3 258.7 L418.0 258.4 L418.7 258.1 L419.3 257.9 L420.0 257.6 L420.7 257.3 L421.4 257.0 L422.1 256.7 L422.7 256.4 L423.4 256.2 L424.1 255.9 L424.7 255.6 L425.4 255.3 L426.1 255.0 L426.8 254.7 L427.4 254.4 L428.1 254.1 L428.7 253.8 L429.4 253.5 L430.1 253.2 L430.7 252.9 L431.4 252.6 L432.0 252.3 L432.7 252.0 L433.3 251.7 L434.0 251.4 L434.6 251.1 L435.3 250.8 L435.9 250.5 L436.6 250.2 L437.2 249.9 L437.8 249.6 L438.5 249.3 L439.1 249.0 L439.7 248.7 L440.4 248.4 L441.0 248.1 L441.6 247.8 L442.2 247.5 L442.9 247.2 L443.5 246.9 L444.1 246.6 L444.7 246.4 L445.3 246.1" stroke="#ff0000" stroke-width="1.9" stroke-dasharray="0.01 5.79" stroke-linecap="round" stroke-dashoffset="4.06"/>
<path d="M107.6 19.6 L108.3 20.7 L109.0 21.7 L109.8 22.7 L110.6 23.7 L111.3 24.7 L112.1 25.6 L112.9 26.6 L113.7 27.6 L114.6 28.5 L115.4 29.4 L116.2 30.3 L117.1 31.2 L118.0 32.1 L118.9 33.0 L119.7 33.9 L120.6 34.8 L121.6 35.6 L122.5 36.5 L123.4 37.4 L124.3 38.2 L125.3 39.0 L126.2 39.9 L127.2 40.7 L128.1 41.5 L129.1 42.4 L130.1 43.2 L131.0 44.0 L132.0 44.8 L133.0 45.6 L134.0 46.4 L134.9 47.2 L135.9 48.0 L136.9 48.8 L137.9 49.6 L138.9 50.4 L139.9 51.2 L140.9 52.0 L141.9 52.8 L142.9 53.6 L143.8 54.4 L144.8 55.3 L145.8 56.1 L146.8 56.9 L147.8 57.7 L148.7 58.5 L149.7 59.4 L150.7 60.2 L151.6 61.0 L152.6 61.9 L153.5 62.7 L154.5 63.6 L155.4 64.4 L156.4 65.3 L157.3 66.2 L158.2 67.0 L159.1 67.9 L160.0 68.8 L160.9 69.7 L161.8 70.6 L162.6 71.5 L163.5 72.4 L164.3 73.3 L165.2 74.3 L166.0 75.2 L166.8 76.2 L167.6 77.1 L168.4 78.1 L169.2 79.1 L169.9 80.0 L170.7 81.0 L171.5 82.0 L172.2 83.0 L172.9 84.0 L173.6 85.0 L174.4 86.1 L175.1 87.1 L175.8 88.1 L176.4 89.2 L177.1 90.2 L177.8 91.2 L178.5 92.3 L179.1 93.4 L179.8 94.4 L180.4 95.5 L181.0 96.6 L181.6 97.7 L182.3 98.7 L182.9 99.8 L183.5 100.9 L184.1 102.0 L184.7 103.1 L185.3 104.2 L185.8 105.4 L186.4 106.5 L187.0 107.6 L187.6 108.7 L188.1 109.8 L188.7 111.0 L189.2 112.1 L189.8 113.2 L190.3 114.4 L190.9 115.5 L191.4 116.6 L191.9 117.8 L192.5 118.9 L193.0 120.1 L193.5 121.2 L194.0 122.4 L194.6 123.5 L195.1 124.7 L195.6 125.8 L196.1 127.0 L196.6 128.1 L197.1 129.3 L197.6 130.4 L198.1 131.6 L198.6 132.8 L199.1 133.9 L199.6 135.1 L200.1 136.2 L200.6 137.4 L201.1 138.6 L201.6 139.7 L202.1 140.9 L202.6 142.0 L203.1 143.2 L203.6 144.4 L204.1 145.5 L204.6 146.7 L205.1 147.9 L205.5 149.0 L206.0 150.2 L206.5 151.4 L207.0 152.5 L207.5 153.7 L208.0 154.9 L208.5 156.0 L208.9 157.2 L209.4 158.4 L209.9 159.6 L210.4 160.7 L210.9 161.9 L211.3 163.1 L211.8 164.2 L212.3 165.4 L212.8 166.6 L213.3 167.7 L213.8 168.9 L214.2 170.1 L214.7 171.2 L215.2 172.4 L215.7 173.6 L216.2 174.7 L216.7 175.9 L217.1 177.1 L217.6 178.2 L218.1 179.4 L218.6 180.6 L219.1 181.7 L219.6 182.9 L220.1 184.1 L220.6 185.2 L221.1 186.4 L221.5 187.6 L222.0 188.7 L222.5 189.9 L223.0 191.0 L223.5 192.2 L224.0 193.4 L224.5 194.5 L225.0 195.7 L225.5 196.8 L226.0 198.0 L226.6 199.1 L227.1 200.3 L227.6 201.4 L228.1 202.6 L228.6 203.7 L229.1 204.9 L229.6 206.0 L230.2 207.2 L230.7 208.3 L231.2 209.5 L231.7 210.6 L232.3 211.8 L232.8 212.9 L233.3 214.0 L233.9 215.2 L234.4 216.3 L235.0 217.5 L235.5 218.6 L236.1 219.7 L236.6 220.8 L237.2 222.0 L237.7 223.1 L238.3 224.2 L238.9 225.3 L239.4 226.5 L240.0 227.6 L240.6 228.7 L241.2 229.8 L241.7 230.9 L242.3 232.1 L242.9 233.2 L243.5 234.3 L244.1 235.4 L244.7 236.5 L245.3 237.6 L245.9 238.7 L246.5 239.8 L247.1 240.9 L247.8 242.0 L248.4 243.1 L249.0 244.2 L249.6 245.2 L250.3 246.3 L250.9 247.4 L251.6 248.5 L252.2 249.6 L252.9 250.6 L253.5 251.7 L254.2 252.8 L254.9 253.9 L255.5 254.9 L256.2 256.0 L256.9 257.0 L257.6 258.1 L258.3 259.2 L259.0 260.2 L259.7 261.3 L260.4 262.3 L261.1 263.4 L261.8 264.4" stroke="#0000ff" stroke-width="1.9" stroke-dasharray="8.1 3.6" stroke-dashoffset="1.67"/>
<path d="M261.8 264.4 L262.5 265.4 L263.3 266.5 L264.0 267.5 L264.7 268.5 L265.5 269.6 L266.2 270.6 L267.0 271.6 L267.7 272.6 L268.5 273.6 L269.3 274.6 L270.1 275.6 L270.9 276.6 L271.7 277.6 L272.5 278.6 L273.3 279.6 L274.1 280.6 L274.9 281.6 L275.7 282.5 L276.6 283.5 L277.4 284.5 L278.3 285.4 L279.1 286.3 L280.0 287.3 L280.9 288.2 L281.7 289.1 L282.6 290.0 L283.5 290.9 L284.4 291.8 L285.3 292.6 L286.3 293.5 L287.2 294.3 L288.1 295.2 L289.1 296.0 L290.1 296.8 L291.0 297.6 L292.0 298.4 L293.0 299.1 L294.0 299.9 L295.0 300.6 L296.0 301.4 L297.1 302.1 L298.1 302.8 L299.1 303.4 L300.2 304.1 L301.3 304.7 L302.4 305.4 L303.4 306.0 L304.6 306.6 L305.7 307.2 L306.8 307.7 L307.9 308.3 L309.0 308.8 L310.2 309.3 L311.3 309.8 L312.5 310.3 L313.7 310.7 L314.8 311.2 L316.0 311.6 L317.2 312.0 L318.4 312.4 L319.6 312.8 L320.8 313.2 L322.0 313.5 L323.2 313.8 L324.4 314.2 L325.7 314.5 L326.9 314.7 L328.1 315.0 L329.4 315.2 L330.6 315.5 L331.8 315.7 L333.1 315.9 L334.3 316.0 L335.6 316.2 L336.8 316.3 L338.1 316.5 L339.3 316.6 L340.6 316.7 L341.9 316.7 L343.1 316.8 L344.4 316.8 L345.6 316.9 L346.9 316.9 L348.1 316.9 L349.4 316.8 L350.6 316.8 L351.9 316.7 L353.2 316.7 L354.4 316.6 L355.7 316.5 L356.9 316.3 L358.2 316.2 L359.4 316.0 L360.7 315.9 L361.9 315.7 L363.2 315.5 L364.4 315.3 L365.6 315.1 L366.9 314.9 L368.1 314.6 L369.4 314.4 L370.6 314.1 L371.8 313.8 L373.1 313.5 L374.3 313.2 L375.5 312.9 L376.8 312.6 L378.0 312.2 L379.2 311.9 L380.4 311.5 L381.7 311.2 L382.9 310.8 L384.1 310.4 L385.3 310.0 L386.5 309.6 L387.7 309.2 L388.9 308.8 L390.1 308.4 L391.3 307.9 L392.5 307.5 L393.7 307.0 L394.9 306.6 L396.1 306.1 L397.3 305.7 L398.5 305.2 L399.7 304.7 L400.8 304.2 L402.0 303.8 L403.2 303.3 L404.3 302.8 L405.5 302.3 L406.7 301.8 L407.8 301.3 L409.0 300.7 L410.2 300.2 L411.3 299.7 L412.5 299.2 L413.6 298.7 L414.8 298.1 L415.9 297.6 L417.0 297.1 L418.2 296.6 L419.3 296.0 L420.5 295.5 L421.6 295.0 L422.8 294.4 L423.9 293.9 L425.0 293.4 L426.2 292.8 L427.3 292.3 L428.5 291.8 L429.6 291.2 L430.7 290.7 L431.9 290.2 L433.0 289.7 L434.1 289.1 L435.3 288.6 L436.4 288.1 L437.6 287.6 L438.7 287.1 L439.8 286.6 L441.0 286.1 L442.1 285.6 L443.3 285.1 L444.4 284.6 L445.6 284.1" stroke="#0000ff" stroke-width="1.9" stroke-dasharray="8.95 3.7" stroke-dashoffset="10.47"/>
<path d="M48.3 86.7 L49.3 90.2 L50.3 93.8 L51.4 97.4 L52.5 100.9 L53.6 104.5 L54.7 108.0 L55.9 111.6 L57.2 115.1 L58.4 118.7 L59.7 122.2 L61.1 125.8 L62.5 129.3 L63.9 132.8 L65.3 136.3 L66.8 139.8 L68.4 143.3 L69.9 146.7 L71.5 150.1 L73.2 153.6 L74.9 157.0 L76.6 160.4 L78.4 163.7 L80.2 167.1 L82.0 170.4 L83.9 173.7 L85.8 177.0 L87.8 180.2 L89.8 183.4 L91.8 186.6 L93.9 189.8 L96.1 192.9 L98.2 196.0 L100.5 199.1 L102.7 202.1 L105.0 205.1 L107.4 208.1 L109.7 211.0 L112.2 213.9 L114.6 216.8 L117.2 219.6 L119.7 222.4 L122.3 225.1 L125.0 227.8 L127.6 230.4 L130.4 233.0 L133.1 235.5 L136.0 238.0 L138.8 240.5 L141.7 242.9 L144.6 245.3 L147.6 247.6 L150.6 249.9 L153.6 252.1 L156.7 254.3 L159.7 256.5 L162.8 258.6 L166.0 260.8 L169.1 262.9 L172.2 265.0 L175.4 267.0 L178.5 269.1 L181.7 271.1 L184.8 273.2 L188.0 275.3 L191.1 277.3 L194.3 279.4 L197.4 281.5 L200.5 283.6 L203.7 285.7 L206.8 287.8 L209.9 289.9 L213.1 292.0 L216.2 294.1 L219.4 296.2 L222.5 298.3 L225.7 300.4 L228.9 302.5 L232.1 304.5 L235.3 306.6 L238.5 308.6 L241.7 310.6 L245.0 312.5 L248.3 314.5 L251.6 316.4 L254.9 318.2 L258.3 320.0 L261.7 321.8 L265.1 323.5 L268.5 325.1 L272.0 326.6 L275.4 328.1 L279.0 329.4 L282.5 330.7 L286.0 331.8 L289.6 332.8 L293.3 333.8 L296.9 334.5 L300.6 335.2 L304.3 335.7 L308.0 336.1 L311.7 336.4 L315.4 336.6 L319.2 336.6 L322.9 336.6 L326.7 336.4 L330.4 336.1 L334.1 335.7 L337.9 335.2 L341.6 334.6 L345.3 333.9 L349.0 333.1 L352.6 332.2 L356.3 331.2 L359.9 330.1 L363.5 329.0 L367.1 327.7 L370.7 326.4 L374.3 325.1 L377.8 323.6 L381.4 322.2 L384.9 320.6 L388.4 319.1 L391.8 317.4 L395.3 315.8 L398.7 314.1 L402.1 312.4 L405.5 310.7 L408.9 308.9 L412.3 307.2 L415.6 305.4 L418.9 303.7 L422.3 301.9 L425.6 300.1 L428.9 298.4 L432.2 296.7 L435.5 295.0 L438.8 293.3 L442.1 291.7 L445.4 290.1" stroke="#000" stroke-width="1.9" stroke-linejoin="round"/>
</g>
<path d="M48.2 19.5V351.3" stroke="#000" stroke-width="1.7" opacity="0.5"/>
<path d="M47.7 19.5H446.1" stroke="#000" stroke-width="0.8"/>
<path d="M445.6 19.5V351.90000000000003" stroke="#000" stroke-width="1.1"/>
<path d="M47.7 351.3H446.20000000000005" stroke="#000" stroke-width="1.2"/>
<path d="M68.14 351.3v-4M79.80 351.3v-4M88.08 351.3v-4M94.50 351.3v-4M99.74 351.3v-4M104.17 351.3v-4M108.01 351.3v-4M111.40 351.3v-4M114.43 351.3v-8M134.37 351.3v-4M146.03 351.3v-4M154.31 351.3v-4M160.73 351.3v-4M165.97 351.3v-4M170.41 351.3v-4M174.25 351.3v-4M177.64 351.3v-4M180.67 351.3v-8M200.60 351.3v-4M212.27 351.3v-4M220.54 351.3v-4M226.96 351.3v-4M232.21 351.3v-4M236.64 351.3v-4M240.48 351.3v-4M243.87 351.3v-4M246.90 351.3v-8M266.84 351.3v-4M278.50 351.3v-4M286.78 351.3v-4M293.20 351.3v-4M298.44 351.3v-4M302.87 351.3v-4M306.71 351.3v-4M310.10 351.3v-4M313.13 351.3v-8M333.07 351.3v-4M344.73 351.3v-4M353.01 351.3v-4M359.43 351.3v-4M364.67 351.3v-4M369.11 351.3v-4M372.95 351.3v-4M376.34 351.3v-4M379.37 351.3v-8M399.30 351.3v-4M410.97 351.3v-4M419.24 351.3v-4M425.66 351.3v-4M430.91 351.3v-4M435.34 351.3v-4M439.18 351.3v-4M442.57 351.3v-4" stroke="#000" stroke-width="0.9" fill="none"/>
<g font-family="Liberation Serif, serif" fill="#000">
<text x="32.2" y="27.2" font-size="14" text-anchor="end">10</text><text x="32.4" y="18.9" font-size="9">-12</text>
<text x="32.2" y="100.5" font-size="14" text-anchor="end">10</text><text x="32.4" y="92.2" font-size="9">-13</text>
<text x="32.2" y="173.9" font-size="14" text-anchor="end">10</text><text x="32.4" y="165.6" font-size="9">-14</text>
<text x="32.2" y="247.2" font-size="14" text-anchor="end">10</text><text x="32.4" y="238.9" font-size="9">-15</text>
<text x="32.2" y="320.6" font-size="14" text-anchor="end">10</text><text x="32.4" y="312.3" font-size="9">-16</text>
<text x="39.3" y="374" font-size="14">10</text><text x="53.0" y="365.9" font-size="9">6</text>
<text x="105.5" y="374" font-size="14">10</text><text x="119.2" y="365.9" font-size="9">7</text>
<text x="171.8" y="374" font-size="14">10</text><text x="185.5" y="365.9" font-size="9">8</text>
<text x="238.0" y="374" font-size="14">10</text><text x="251.7" y="365.9" font-size="9">9</text>
<text x="301.7" y="374" font-size="14">10</text><text x="315.4" y="365.9" font-size="9">10</text>
<text x="368.0" y="374" font-size="14">10</text><text x="381.7" y="365.9" font-size="9">11</text>
<text x="434.2" y="374" font-size="14">10</text><text x="447.9" y="365.9" font-size="9">12</text>
<text x="222.8" y="387" font-size="14" font-style="italic">t</text>
<text x="226.2" y="392.4" font-size="11">X</text>
<text x="238.3" y="387" font-size="14">[ sec ]</text>
<g transform="translate(13.5 230.4) rotate(-90)">
<text x="0" y="0" font-size="14" font-style="italic">E</text>
<text x="8.8" y="5.5" font-size="10">vis</text>
<text x="25.6" y="0" font-size="14" font-style="italic">Y</text>
<text x="33" y="5.8" font-size="11" font-family="Liberation Sans, sans-serif">X</text>
<text x="47.2" y="0" font-size="14">[ GeV ]</text>
</g>
<text x="134.6" y="279.9" font-size="16.5" textLength="7.4" lengthAdjust="spacingAndGlyphs" fill="#1a1a1a">μ</text>
<text x="134.6" y="294.7" font-size="16.5" textLength="7.4" lengthAdjust="spacingAndGlyphs" fill="#1a1a1a">μ</text>
<text x="142.6" y="297.6" font-size="10">1</text>
<text x="134.6" y="310.1" font-size="16.5" textLength="7.4" lengthAdjust="spacingAndGlyphs" fill="#1a1a1a">μ</text>
<text x="142.6" y="313.4" font-size="10">2</text>
<text x="134.6" y="325.6" font-size="16.5" textLength="7.4" lengthAdjust="spacingAndGlyphs" fill="#1a1a1a">μ</text>
<text x="142.6" y="329.0" font-size="10">3</text>
</g>
<path d="M79.7 277H126.7" stroke="#000" stroke-width="1.7"/>
<path d="M79.7 291.9H126.7" stroke="#0000ff" stroke-width="1.7" stroke-dasharray="7.8 3.9"/>
<path d="M79.2 307.8H127" stroke="#ff0000" stroke-width="1.7" stroke-dasharray="1.6 4.3"/>
<path d="M79.5 323.5H126.6" stroke="#9400D3" stroke-width="1.7" stroke-dasharray="1.5 4.3 10.3 4.4"/>
<g font-family="Liberation Sans, sans-serif" fill="#141414">
<text x="347.0" y="79.6" font-size="13" textLength="38.6" lengthAdjust="spacing">FIRAS</text>
<text x="132.4" y="126" font-size="9">3</text><text x="137.6" y="133.4" font-size="12" textLength="35" lengthAdjust="spacing">He / D</text>
</g>
</svg>
</body></html>
